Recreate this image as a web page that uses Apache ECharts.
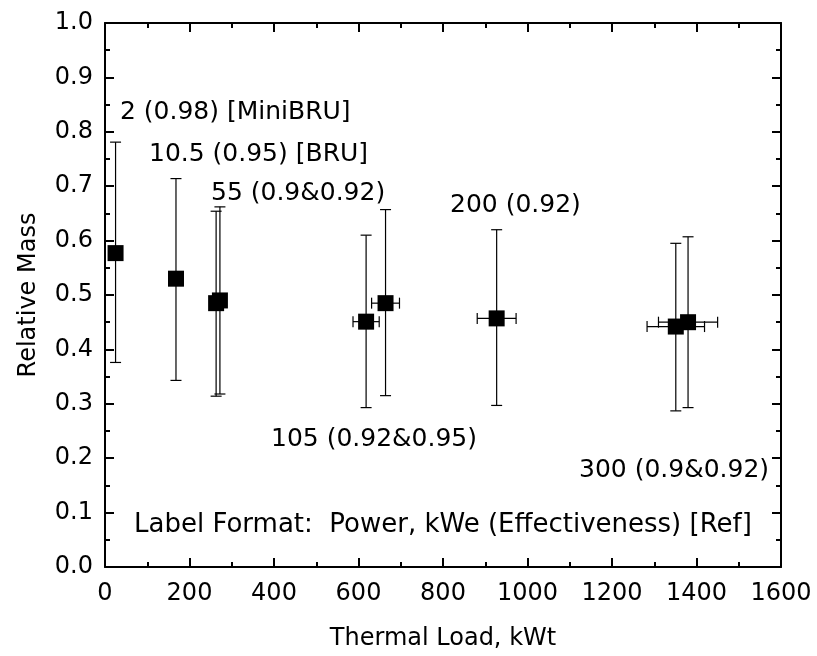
<!DOCTYPE html>
<html>
<head>
<meta charset="utf-8">
<script src="https://cdn.jsdelivr.net/npm/echarts@6/dist/echarts.min.js"></script>
<style>
  html, body { margin: 0; padding: 0; background: #fff; }
  #chart { width: 817px; height: 656px; }
</style>
</head>
<body>
<div id="chart"></div>
<script>
// thermal load (kWt), relative mass and its error range
const thermalLoad = [25, 168, 263, 272, 618, 664, 927, 1351, 1380];
const relMass = [0.577, 0.53, 0.485, 0.49, 0.451, 0.485, 0.457, 0.442, 0.45];
const massLow = [0.376, 0.343, 0.314, 0.318, 0.293, 0.315, 0.297, 0.287, 0.293];
const massHigh = [0.781, 0.714, 0.654, 0.662, 0.61, 0.657, 0.62, 0.595, 0.607];
const loadErr = [0, 0, 0, 0, 31, 33, 46, 68, 70];

const xTicks = [0, 200, 400, 600, 800, 1000, 1200, 1400, 1600];
const yTicks = [0.0, 0.1, 0.2, 0.3, 0.4, 0.5, 0.6, 0.7, 0.8, 0.9, 1.0];

const noteTexts = [
  '2 (0.98) [MiniBRU]',
  '10.5 (0.95) [BRU]',
  '55 (0.9&0.92)',
  '200 (0.92)',
  '105 (0.92&0.95)',
  '300 (0.9&0.92)',
  'Label Format:  Power, kWe (Effectiveness) [Ref]'
];

const font = 'DejaVu Sans';
const fs = 24;
const noteFs = 25;

const errData = thermalLoad.map((x, i) => [x, relMass[i], massLow[i], massHigh[i], loadErr[i]]);
const ptData = thermalLoad.map((x, i) => [x, relMass[i]]);

const chart = echarts.init(document.getElementById('chart'), null, { renderer: 'canvas' });

const lineStyle = { stroke: '#000', lineWidth: 1.2 };

function renderErr(params, api) {
  const x = api.value(0), y = api.value(1);
  const lo = api.value(2), hi = api.value(3), xe = api.value(4);
  const top = api.coord([x, hi]);
  const bot = api.coord([x, lo]);
  const cap = 5.5;
  const kids = [
    { type: 'line', shape: { x1: top[0], y1: top[1], x2: bot[0], y2: bot[1] }, style: lineStyle },
    { type: 'line', shape: { x1: top[0] - cap, y1: top[1], x2: top[0] + cap, y2: top[1] }, style: lineStyle },
    { type: 'line', shape: { x1: bot[0] - cap, y1: bot[1], x2: bot[0] + cap, y2: bot[1] }, style: lineStyle }
  ];
  if (xe > 0) {
    const l = api.coord([x - xe, y]);
    const r = api.coord([x + xe, y]);
    kids.push(
      { type: 'line', shape: { x1: l[0], y1: l[1], x2: r[0], y2: r[1] }, style: lineStyle },
      { type: 'line', shape: { x1: l[0], y1: l[1] - cap, x2: l[0], y2: l[1] + cap }, style: lineStyle },
      { type: 'line', shape: { x1: r[0], y1: r[1] - cap, x2: r[0], y2: r[1] + cap }, style: lineStyle }
    );
  }
  return { type: 'group', children: kids };
}

function note(text, x, y, size) {
  return {
    type: 'text',
    style: { x: x, y: y, text: text, fill: '#000', fontSize: size || noteFs, fontFamily: font, verticalAlign: 'middle' },
    z: 10
  };
}

const axisLine = { show: true, onZero: false, lineStyle: { color: '#000', width: 2 } };
const axisTick = { show: true, inside: true, length: 9, lineStyle: { color: '#000', width: 2 } };
const minorTick = { show: true, splitNumber: 2, length: 5, lineStyle: { color: '#000', width: 2 } };

const option = {
  backgroundColor: '#fff',
  animation: false,
  grid: { left: 105, right: 36, top: 23, bottom: 89, containLabel: false, outerBoundsMode: 'none' },
  xAxis: [{
    type: 'value', position: 'bottom', min: 0, max: 1600, interval: 200,
    axisLine: axisLine, axisTick: axisTick, minorTick: minorTick,
    splitLine: { show: false },
    axisLabel: { color: '#000', fontSize: fs, fontFamily: font, margin: 15,
      formatter: v => xTicks.includes(v) ? String(v) : '' },
    name: 'Thermal Load, kWt', nameLocation: 'middle', nameGap: 60,
    nameTextStyle: { color: '#000', fontSize: fs, fontFamily: font }
  }, {
    type: 'value', position: 'top', min: 0, max: 1600, interval: 200,
    axisLine: axisLine, axisTick: axisTick, minorTick: minorTick,
    splitLine: { show: false }, axisLabel: { show: false }
  }],
  yAxis: [{
    type: 'value', position: 'left', min: 0, max: 1, interval: 0.1,
    axisLine: axisLine, axisTick: axisTick, minorTick: minorTick,
    splitLine: { show: false },
    axisLabel: { color: '#000', fontSize: fs, fontFamily: font, margin: 12,
      formatter: v => yTicks.some(t => Math.abs(t - v) < 1e-6) ? v.toFixed(1) : '' },
    name: 'Relative Mass', nameLocation: 'middle', nameGap: 64, nameRotate: 90,
    nameTextStyle: { color: '#000', fontSize: fs, fontFamily: font }
  }, {
    type: 'value', position: 'right', min: 0, max: 1, interval: 0.1,
    axisLine: axisLine, axisTick: axisTick, minorTick: minorTick,
    splitLine: { show: false }, axisLabel: { show: false }
  }],
  series: [{
    type: 'custom',
    xAxisIndex: 0, yAxisIndex: 0,
    renderItem: renderErr,
    encode: { x: 0, y: 1 },
    data: errData,
    z: 2
  }, {
    type: 'scatter',
    xAxisIndex: 0, yAxisIndex: 0,
    symbol: 'rect', symbolSize: 16,
    itemStyle: { color: '#000', opacity: 1 },
    data: ptData,
    z: 3
  }],
  graphic: [
    note(noteTexts[0], 120, 112),
    note(noteTexts[1], 149, 154),
    note(noteTexts[2], 211, 193),
    note(noteTexts[3], 450, 205),
    note(noteTexts[4], 271, 439),
    note(noteTexts[5], 579, 470),
    note(noteTexts[6], 134, 525, 26)
  ]
};

chart.setOption(option);
</script>
</body>
</html>
